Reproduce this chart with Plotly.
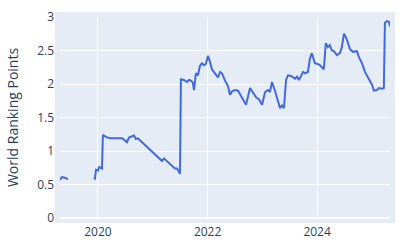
import plotly.graph_objects as go

dates = [
    "2019-04-23", "2019-05-06", "2019-05-26", "2019-06-15",
    "2019-09-15",
    "2019-12-05", "2019-12-12", "2019-12-19", "2020-01-02", "2020-01-08", "2020-01-21", "2020-01-28",
    "2020-02-03", "2020-02-23", "2020-03-21", "2020-04-30", "2020-06-09", "2020-06-22", "2020-07-12",
    "2020-07-26", "2020-08-08", "2020-08-28", "2020-09-10", "2020-09-24", "2020-10-07", "2020-11-09",
    "2020-12-13", "2021-01-15", "2021-02-17", "2021-03-03", "2021-03-16", "2021-04-05", "2021-04-25",
    "2021-05-15", "2021-05-28", "2021-06-11", "2021-06-24", "2021-07-01", "2021-07-07", "2021-07-27",
    "2021-08-16", "2021-08-30", "2021-09-12", "2021-09-25", "2021-10-02", "2021-10-15", "2021-10-29",
    "2021-11-11", "2021-11-24", "2021-12-08", "2021-12-21", "2022-01-04", "2022-01-17", "2022-01-30",
    "2022-02-19", "2022-03-11", "2022-03-25", "2022-04-07", "2022-04-27", "2022-05-17", "2022-05-30",
    "2022-06-13", "2022-07-03", "2022-07-23", "2022-08-12", "2022-09-01", "2022-09-14", "2022-10-11",
    "2022-10-31", "2022-11-20", "2022-12-10", "2022-12-30", "2023-01-19", "2023-02-08", "2023-02-21",
    "2023-03-06", "2023-03-26", "2023-04-15", "2023-04-29", "2023-05-12", "2023-05-25", "2023-06-08",
    "2023-06-21", "2023-07-11", "2023-07-24", "2023-08-07", "2023-08-20", "2023-09-02", "2023-09-16",
    "2023-09-29", "2023-10-12", "2023-11-01", "2023-11-14", "2023-11-27", "2023-12-17", "2024-01-06",
    "2024-01-20", "2024-02-02", "2024-02-15", "2024-02-28", "2024-03-13", "2024-03-26", "2024-04-08",
    "2024-04-22", "2024-05-12", "2024-06-01", "2024-06-14", "2024-06-28", "2024-07-11", "2024-07-24",
    "2024-08-07", "2024-08-27", "2024-09-22", "2024-10-06", "2024-10-26", "2024-11-15", "2024-12-05",
    "2025-01-01", "2025-01-14", "2025-02-03", "2025-02-16", "2025-03-08", "2025-03-21", "2025-03-28",
    "2025-04-10", "2025-04-24", "2025-05-01",
]

points = [
    0.57, 0.61, 0.60, 0.58,
    None,
    0.60, 0.59, 0.72, 0.71, 0.76, 0.75, 0.74,
    1.24, 1.21, 1.19, 1.19, 1.19, 1.17, 1.13,
    1.20, 1.21, 1.23, 1.18, 1.19, 1.16, 1.09,
    1.02, 0.95, 0.88, 0.85, 0.89, 0.85, 0.80,
    0.76, 0.74, 0.74, 0.69, 0.66, 2.07, 2.06,
    2.03, 2.06, 2.05, 2.02, 1.91, 2.16, 2.13,
    2.27, 2.31, 2.28, 2.30, 2.42, 2.33, 2.22,
    2.16, 2.10, 2.18, 2.16, 2.05, 1.97, 1.84,
    1.89, 1.91, 1.90, 1.82, 1.74, 1.69, 1.94,
    1.86, 1.80, 1.77, 1.69, 1.88, 1.91, 1.88,
    2.03, 1.90, 1.76, 1.64, 1.68, 1.64, 2.06,
    2.13, 2.12, 2.10, 2.08, 2.11, 2.06, 2.12,
    2.18, 2.16, 2.18, 2.38, 2.46, 2.31, 2.30,
    2.28, 2.25, 2.22, 2.61, 2.55, 2.58, 2.50,
    2.49, 2.43, 2.46, 2.55, 2.75, 2.70, 2.62,
    2.52, 2.48, 2.49, 2.40, 2.31, 2.18, 2.09,
    1.99, 1.90, 1.91, 1.94, 1.93, 1.94, 2.91,
    2.94, 2.93, 2.86,
]

y_ticks = [0, 0.5, 1, 1.5, 2, 2.5, 3]
y_tick_labels = ["0", "0.5", "1", "1.5", "2", "2.5", "3"]

fig = go.Figure(
    go.Scatter(
        x=dates, y=points, mode="lines",
        line=dict(color="royalblue", width=2),
        connectgaps=False,
    )
)

fig.update_layout(
    template="plotly",
    width=400, height=250,
    margin=dict(l=60, r=10, t=17, b=32, pad=5, autoexpand=False),
    showlegend=False,
    font=dict(family="Open Sans, verdana, arial, sans-serif", color="#2a3f5f"),
    plot_bgcolor="#E5ECF6",
    paper_bgcolor="white",
)
fig.update_xaxes(
    tickvals=["2020-01-01", "2022-01-01", "2024-01-01"],
    ticktext=["2020", "2022", "2024"],
    tickfont=dict(size=12),
    automargin=False,
)
fig.update_yaxes(
    range=[0, 3],
    tickvals=y_ticks, ticktext=y_tick_labels,
    tickfont=dict(size=12),
    automargin=False,
    title=dict(text="World Ranking Points", font=dict(size=14), standoff=20),
)

fig.write_html("out.html")
